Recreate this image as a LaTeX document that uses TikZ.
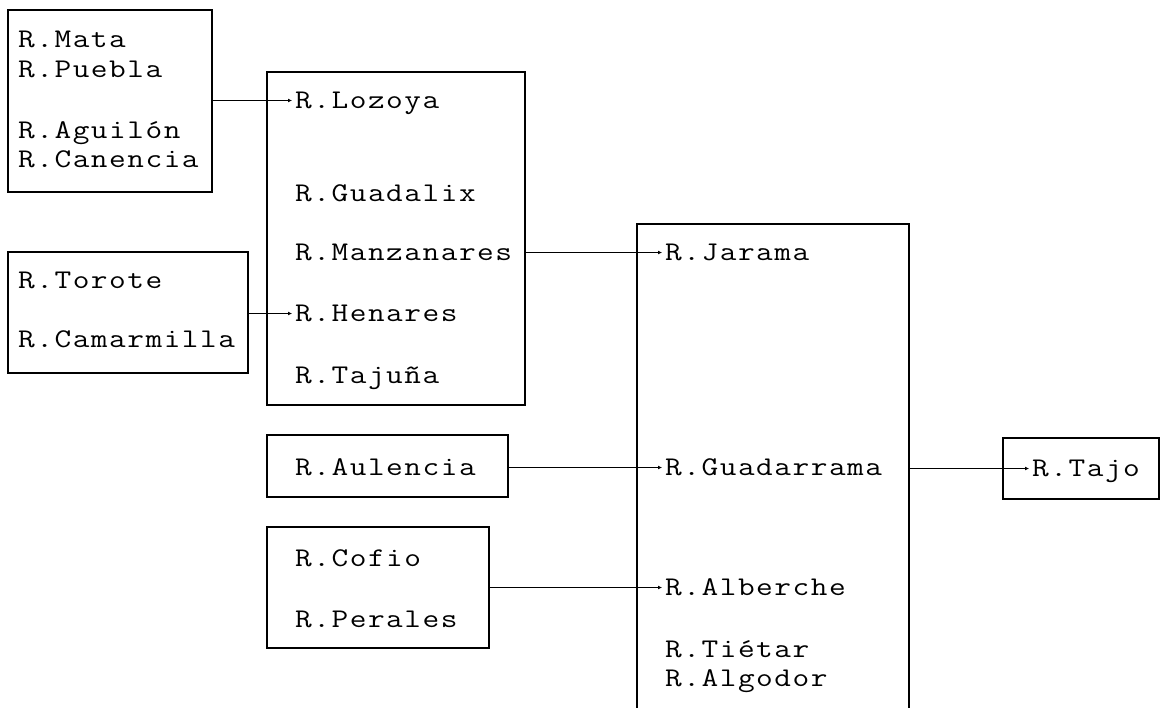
\documentclass[tikz,border=0pt]{standalone}
\usepackage{fontspec}
\usepackage{graphicx}
\usetikzlibrary{arrows.meta}
\def\spcd#1{\spcdA#1\relax}
\def\spcdA#1{\ifx\relax#1\else\hbox to 18.2pt{\scalebox{1.2}[1]{#1}\hss}\expandafter\spcdA\fi}
\begin{document}
\begin{tikzpicture}[x=1pt,y=-1pt,
  boxline/.style={line width=2pt},
  frame/.style={boxline, draw, inner sep=0pt},
  riv/.style={anchor=base west, inner xsep=3pt, inner ysep=0pt, text height=15pt, text depth=0pt,
    font=\ttfamily\fontsize{27}{30}\selectfont},
  link/.style={line width=1.8pt, -{Latex[length=4pt,width=4pt]}}]
\useasboundingbox (0,0) rectangle (1161,707);
% boxes
\node[frame, minimum width=204pt, minimum height=182pt] (A) at (110,101) {};
\node[frame, minimum width=258pt, minimum height=333pt] (B) at (396,238.5) {};
\node[frame, minimum width=240pt, minimum height=121pt] (C) at (128,312.5) {};
\node[inner sep=0pt, minimum width=272pt, minimum height=485pt] (D) at (773,466.5) {};
\draw[boxline] (D.south west) -- (D.north west) -- (D.north east) -- (D.south east);
\node[frame, minimum width=241pt, minimum height=62pt] (E) at (387.5,466) {};
\node[frame, minimum width=222pt, minimum height=121pt] (F) at (378,587.5) {};
\node[frame, minimum width=156pt, minimum height=61pt] (G) at (1081,468.5) {};
% texts
\node[riv] (mata) at (15,47) {\spcd{R.Mata}};
\node[riv] (puebla) at (15,77) {\spcd{R.Puebla}};
\node[riv] (aguilon) at (15,138) {\spcd{R.Aguilón}};
\node[riv] (canencia) at (15,167) {\spcd{R.Canencia}};
\node[riv] (lozoya) at (292,108) {\spcd{R.Lozoya}};
\node[riv] (guadalix) at (292,201) {\spcd{R.Guadalix}};
\node[riv] (manzanares) at (292,260) {\spcd{R.Manzanares}};
\node[riv] (henares) at (292,321) {\spcd{R.Henares}};
\node[riv] (tajuna) at (292,383) {\spcd{R.Tajuña}};
\node[riv] (torote) at (15,288) {\spcd{R.Torote}};
\node[riv] (camarmilla) at (15,347) {\spcd{R.Camarmilla}};
\node[riv] (jarama) at (662,260) {\spcd{R.Jarama}};
\node[riv] (guadarrama) at (662,475) {\spcd{R.Guadarrama}};
\node[riv] (alberche) at (662,595) {\spcd{R.Alberche}};
\node[riv] (tietar) at (662,657) {\spcd{R.Tiétar}};
\node[riv] (algodor) at (662,686) {\spcd{R.Algodor}};
\node[riv] (aulencia) at (292,475) {\spcd{R.Aulencia}};
\node[riv] (cofio) at (292,566) {\spcd{R.Cofio}};
\node[riv] (perales) at (292,627) {\spcd{R.Perales}};
\node[riv] (tajo) at (1029,476) {\spcd{R.Tajo}};
% connectors
\draw[link] (A.east |- lozoya.west) -- (lozoya.west);
\draw[link] (C.east |- henares.west) -- (henares.west);
\draw[link] (B.east |- jarama.west) -- (jarama.west);
\draw[link] (E.east |- guadarrama.west) -- (guadarrama.west);
\draw[link] (F.east |- alberche.west) -- (alberche.west);
\draw[link] (D.east |- tajo.west) -- (tajo.west);
\end{tikzpicture}
\end{document}
